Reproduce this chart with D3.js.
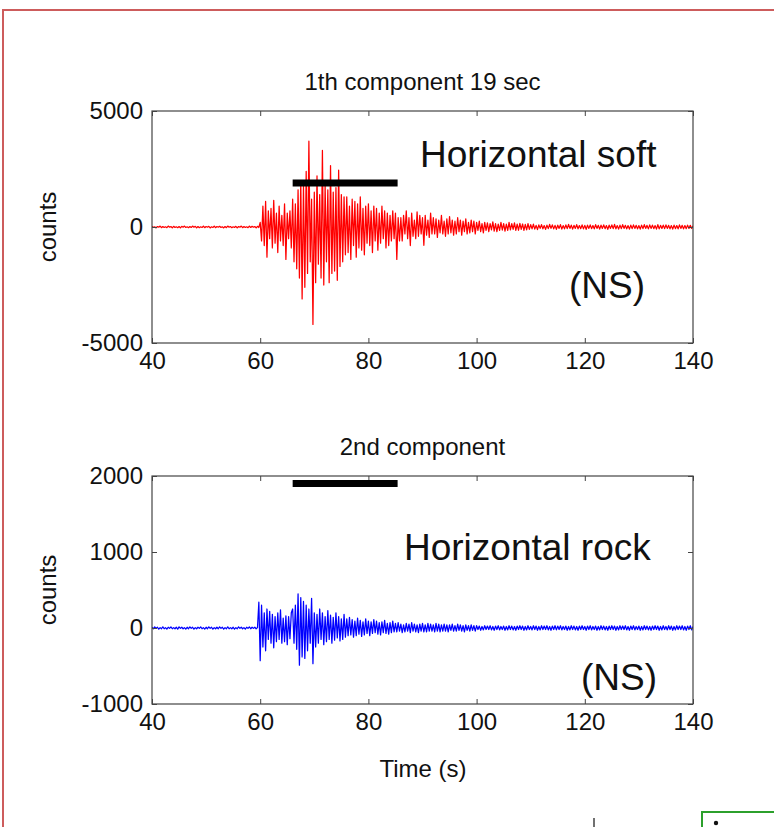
<!DOCTYPE html>
<html>
<head>
<meta charset="utf-8">
<script src="https://cdn.jsdelivr.net/npm/d3@7"></script>
<style>
  html, body { margin: 0; padding: 0; background: #fff; }
  svg { display: block; }
  text { font-family: "Liberation Sans", Arial, Helvetica, sans-serif; fill: #111; }
</style>
</head>
<body>
<svg id="chart" width="774" height="827"></svg>
<script>
// ---------------- DATA ----------------
const xTicks = [40, 60, 80, 100, 120, 140];
const topYTicks = [-5000, 0, 5000];
const bottomYTicks = [-1000, 0, 1000, 2000];
const topTitle = "1th component 19 sec";
const bottomTitle = "2nd component";
const topLabel = "Horizontal soft";
const bottomLabel = "Horizontal rock";
const componentTag = "(NS)";
const yLabel = "counts";
const xLabel = "Time (s)";

// sampling grid of the traces (seconds)
const sampleStart = 40;
const sampleStep = 0.25;

// horizontal marker bar (time window, seconds) and its level (counts)
const barWindow = [66, 85.4];
const topBarLevel = 1900;
const bottomBarLevel = 1900;

// 1st component (red), counts, one value per 0.25 s from 40 s to 140 s
const redCounts = [
  30,-20,10,-40,20,-10,40,-30,20,-20,10,-30,40,-10,20,-40,30,-20,10,-30,
  20,-40,30,-10,40,-20,10,-30,20,-20,40,-10,30,-40,20,-30,10,-20,40,-30,
  20,-10,30,-40,10,-20,40,-30,20,-10,30,-20,10,-40,20,-30,40,-10,20,-30,
  10,-20,30,-40,20,-10,40,-30,20,-20,10,-30,40,-20,30,-10,20,-40,30,-20,
  // 60 - 66 s
  200,-600,900,-800,1100,-1300,700,-500,800,-900,1150,-700,600,-1100,900,-600,500,-800,1000,-1400,600,-500,700,-900,
  // 66 - 70 s
  1200,-1500,1000,-1800,1600,-2200,2000,-3100,1800,-2600,2400,-2000,3700,-1500,1200,-4200,
  // 70 - 76 s
  1500,-2400,2200,-1600,1400,-2200,3300,-2500,1800,-1500,1600,-2400,2650,-2000,1500,-1900,1700,-2300,2450,-1700,1400,-1500,1300,-1200,
  // 76 - 80 s
  1300,-1100,900,-1400,1200,-800,1100,-1300,1000,-900,1300,-1000,800,-1200,900,-700,
  // 80 - 86 s
  1000,-800,700,-1100,900,-600,800,-1000,600,-700,900,-500,700,-900,600,-800,500,-600,700,-500,600,-1400,400,-600,
  // 86 - 92 s
  400,-600,500,-300,700,-500,400,-800,600,-400,300,-500,650,-400,500,-300,400,-790,500,-350,300,-450,600,-300,
  // 92 - 100 s
  400,-300,350,-450,300,-250,500,-300,250,-400,350,-300,450,-250,300,-350,250,-300,400,-200,300,-350,250,-200,350,-300,200,-250,300,-200,250,-300,
  // 100 - 110 s
  200,-150,250,-200,150,-250,200,-150,180,-200,150,-120,220,-180,150,-200,120,-150,200,-130,150,-180,120,-150,200,-120,150,-100,180,-150,120,-140,160,-100,130,-150,110,-120,150,-100,
  // 110 - 140 s
  100,-80,120,-90,70,-110,90,-60,100,-80,60,-100,80,-70,110,-60,90,-80,70,-100,
  80,-60,100,-90,60,-80,90,-70,110,-60,80,-90,70,-60,100,-80,60,-70,90,-80,
  70,-100,80,-60,90,-70,60,-80,100,-60,70,-90,80,-60,90,-70,60,-100,80,-60,
  90,-70,110,-80,60,-90,80,-70,100,-60,70,-80,60,-90,80,-70,90,-60,70,-80,
  60,-90,80,-70,100,-60,70,-80,90,-60,80,-70,60,-90,100,-80,70,-60,80,-70,
  90,-60,70,-80,60,-90,80,-70,60,-80,90,-60,70,-80,60,-70,80,-60,70,-60,50
];

// 2nd component (blue), counts, one value per 0.25 s from 40 s to 140 s
const blueCounts = [
  10,-10,15,-5,10,-15,5,-10,15,-10,5,-15,10,-5,15,-10,5,-10,10,-15,
  15,-5,10,-10,5,-15,10,-10,15,-5,10,-15,5,-10,10,-5,15,-10,5,-15,
  10,-10,15,-5,10,-15,5,-10,10,-10,15,-5,10,-15,5,-10,15,-10,5,-10,
  10,-15,5,-10,15,-5,10,-10,5,-15,10,-5,15,-10,10,-5,10,-10,5,340,
  // 60 - 66 s
  -430,300,-250,200,-300,250,-150,220,-200,180,-260,150,-180,200,-150,240,-200,130,-180,160,-220,150,-140,200,
  // 66 - 70 s
  250,-200,300,-280,450,-490,400,-380,350,-400,300,-300,250,-200,390,-470,
  // 70 - 76 s
  200,-250,180,-200,250,-150,200,-220,150,-180,230,-150,170,-200,140,-160,200,-130,150,-170,120,-150,180,-120,
  // 76 - 85 s
  120,-100,140,-90,110,-120,90,-100,130,-80,100,-110,80,-90,120,-70,90,-100,80,-70,110,-60,90,-80,70,-90,80,-60,100,-70,60,-80,70,-60,90,-50,
  // 85 - 100 s
  60,-50,70,-40,50,-60,40,-50,60,-40,50,-60,70,-40,50,-50,40,-60,50,-40,
  60,-50,40,-50,60,-40,50,-40,40,-50,60,-40,50,-50,40,-40,50,-40,40,-50,
  40,-30,50,-40,30,-40,50,-30,40,-40,30,-50,40,-30,30,-40,40,-30,30,-40,
  // 100 - 140 s
  30,-20,25,-30,20,-25,30,-20,25,-20,30,-25,20,-30,25,-20,30,-25,20,-20,
  25,-30,20,-25,30,-20,25,-25,20,-30,25,-20,30,-20,25,-30,20,-25,30,-20,
  20,-25,30,-20,25,-30,20,-25,30,-20,25,-20,30,-25,20,-30,25,-20,30,-25,
  25,-20,30,-25,20,-20,25,-30,20,-25,30,-20,25,-25,20,-30,25,-20,30,-20,
  20,-30,25,-20,30,-25,20,-20,25,-30,20,-25,30,-20,25,-25,20,-30,25,-20,
  30,-20,25,-30,20,-25,30,-20,25,-20,30,-25,20,-30,25,-20,30,-25,20,-20,
  25,-30,20,-25,30,-20,25,-25,20,-30,25,-20,30,-20,25,-30,20,-25,30,-20,
  20,-25,30,-20,25,-30,20,-25,30,-20,25,-20,30,-25,20,-30,25,-20,30,-25,
  20
];

// ---------------- DRAW ----------------
const svg = d3.select("#chart");
svg.append("rect").attr("width", 774).attr("height", 827).attr("fill", "#fff");

// page frame fragments visible in the reference
svg.append("path").attr("d", "M3,827 V10 H774")
  .attr("fill", "none").attr("stroke", "#cd5c5c").attr("stroke-width", 2);
svg.append("path").attr("d", "M702,827 V812 H774")
  .attr("fill", "none").attr("stroke", "#2ca02c").attr("stroke-width", 2);
svg.append("circle").attr("cx", 716).attr("cy", 823).attr("r", 2.2).attr("fill", "#111");
svg.append("line").attr("x1", 594).attr("x2", 594).attr("y1", 818).attr("y2", 827)
  .attr("stroke", "#111").attr("stroke-width", 1.2);

const x = d3.scaleLinear().domain([40, 140]).range([152, 693]);

function panel(cfg) {
  const y = d3.scaleLinear().domain(cfg.yDomain).range([cfg.bottom, cfg.top]);
  const g = svg.append("g");
  const clipId = "clip" + cfg.id;
  svg.append("clipPath").attr("id", clipId).append("rect")
    .attr("x", x.range()[0]).attr("y", cfg.top)
    .attr("width", x.range()[1] - x.range()[0]).attr("height", cfg.bottom - cfg.top);

  // trace
  const pts = cfg.values.map((v, i) => [sampleStart + i * sampleStep, v]);
  const line = d3.line().x(d => x(d[0])).y(d => y(d[1]));
  g.append("path").datum(pts)
    .attr("clip-path", `url(#${clipId})`)
    .attr("fill", "none").attr("stroke", cfg.color)
    .attr("stroke-width", 1.25).attr("stroke-linejoin", "round")
    .attr("d", line);

  // axes
  const tickLen = -5;
  const fmt = d => String(d);
  const styleAxis = sel => {
    sel.select(".domain").remove();
    sel.selectAll(".tick line").attr("stroke", "#444");
    sel.selectAll(".tick text").attr("font-size", 24).attr("fill", "#111")
      .attr("font-family", '"Liberation Sans", Arial, sans-serif');
  };
  g.append("g").attr("transform", `translate(0,${cfg.bottom})`)
    .call(d3.axisBottom(x).tickValues(xTicks).tickSizeInner(tickLen).tickSizeOuter(0).tickPadding(9).tickFormat(fmt))
    .call(styleAxis);
  g.append("g").attr("transform", `translate(0,${cfg.top})`)
    .call(d3.axisTop(x).tickValues(xTicks).tickSizeInner(tickLen).tickSizeOuter(0).tickFormat(""))
    .call(styleAxis);
  g.append("g").attr("transform", `translate(${x.range()[0]},0)`)
    .call(d3.axisLeft(y).tickValues(cfg.yTicks).tickSizeInner(tickLen).tickSizeOuter(0).tickPadding(9).tickFormat(fmt))
    .call(styleAxis);
  g.append("g").attr("transform", `translate(${x.range()[1]},0)`)
    .call(d3.axisRight(y).tickValues(cfg.yTicks).tickSizeInner(tickLen).tickSizeOuter(0).tickFormat(""))
    .call(styleAxis);
  // box
  g.append("rect")
    .attr("x", x.range()[0]).attr("y", cfg.top)
    .attr("width", x.range()[1] - x.range()[0]).attr("height", cfg.bottom - cfg.top)
    .attr("fill", "none").attr("stroke", "#444").attr("stroke-width", 1.2);

  // marker bar
  g.append("line")
    .attr("x1", x(barWindow[0])).attr("x2", x(barWindow[1]))
    .attr("y1", y(cfg.barLevel)).attr("y2", y(cfg.barLevel))
    .attr("stroke", "#000").attr("stroke-width", 7);

  // title
  g.append("text").attr("x", (x.range()[0] + x.range()[1]) / 2).attr("y", cfg.top - 21)
    .attr("text-anchor", "middle").attr("font-size", 24).text(cfg.title);
  // y label
  g.append("text")
    .attr("transform", `translate(56,${(cfg.top + cfg.bottom) / 2}) rotate(-90)`)
    .attr("text-anchor", "middle").attr("font-size", 24).text(yLabel);
  // annotations
  g.append("text").attr("x", cfg.labelX).attr("y", cfg.labelY)
    .attr("font-size", 37).attr("fill", "#000").text(cfg.label);
  g.append("text").attr("x", cfg.tagX).attr("y", cfg.tagY)
    .attr("font-size", 37).attr("fill", "#000").text(componentTag);
}

panel({
  id: "a", top: 111, bottom: 343, yDomain: [-5000, 5000], yTicks: topYTicks,
  values: redCounts, color: "#ff0000", barLevel: topBarLevel,
  title: topTitle, label: topLabel, labelX: 420, labelY: 167, tagX: 569, tagY: 298
});
panel({
  id: "b", top: 476, bottom: 704, yDomain: [-1000, 2000], yTicks: bottomYTicks,
  values: blueCounts, color: "#0000ff", barLevel: bottomBarLevel,
  title: bottomTitle, label: bottomLabel, labelX: 404, labelY: 560, tagX: 581, tagY: 690
});

// x axis label
svg.append("text").attr("x", 423).attr("y", 777).attr("text-anchor", "middle")
  .attr("font-size", 24).text(xLabel);
</script>
</body>
</html>
